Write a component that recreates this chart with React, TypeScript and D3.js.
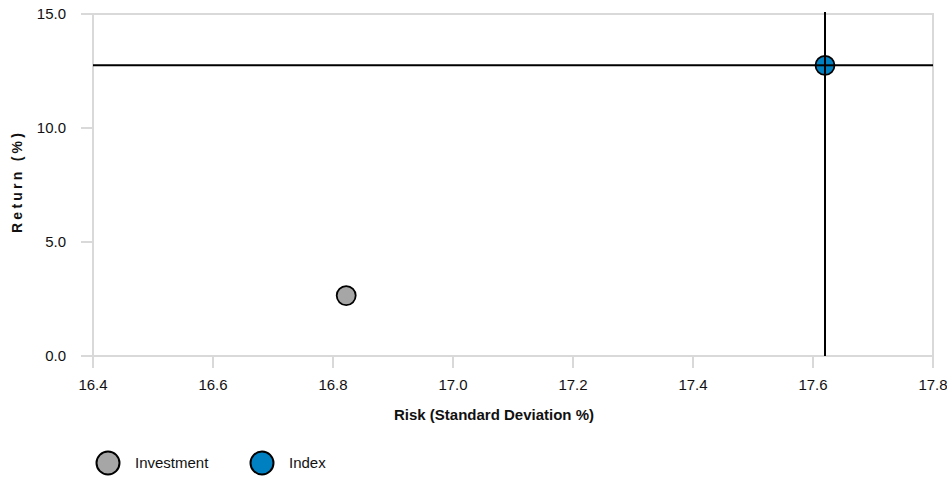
import React from "react";
import * as d3 from "d3";

const seriesNames = ["Investment", "Index"];
const riskValues = [16.822, 17.62];
const returnValues = [2.65, 12.75];
const seriesColors = ["#a6a6a6", "#0080c0"];
const xTicks = [16.4, 16.6, 16.8, 17.0, 17.2, 17.4, 17.6, 17.8];
const yTicks = [0, 5, 10, 15];

const W = 947;
const H = 480;
const left = 93;
const right = 933;
const top = 14;
const bottom = 356;

export default function App() {
  const x = d3.scaleLinear().domain([16.4, 17.8]).range([left, right]);
  const y = d3.scaleLinear().domain([0, 15]).range([bottom, top]);
  const font = "'Liberation Sans', Arial, sans-serif";
  const idx = 1;
  return (
    <svg width={W} height={H} style={{ position: "absolute", left: 0, top: 0 }} fontFamily={font}>
      <rect x={0} y={0} width={W} height={H} fill="#fff" />
      <rect x={left} y={top} width={right - left} height={bottom - top} fill="none" stroke="#d9d9d9" strokeWidth={2} />
      {yTicks.map((t) => (
        <g key={"y" + t}>
          <line x1={left - 12} x2={left} y1={y(t)} y2={y(t)} stroke="#d9d9d9" strokeWidth={2} />
          <text x={66} y={y(t)} dy="0.35em" textAnchor="end" fontSize={15} fill="#111">
            {d3.format(".1f")(t)}
          </text>
        </g>
      ))}
      {xTicks.map((t) => (
        <g key={"x" + t}>
          <line x1={x(t)} x2={x(t)} y1={bottom} y2={bottom + 12} stroke="#d9d9d9" strokeWidth={2} />
          <text x={x(t)} y={390} textAnchor="middle" fontSize={15} fill="#111">
            {d3.format(".1f")(t)}
          </text>
        </g>
      ))}
      <text x={494} y={420} textAnchor="middle" fontSize={15} fontWeight="bold" fill="#111">
        Risk (Standard Deviation %)
      </text>
      <text
        transform={`translate(22,233) rotate(-90)`}
        fontSize={14}
        fontWeight="bold"
        textLength={100}
        lengthAdjust="spacing"
        fill="#111"
      >
        Return (%)
      </text>
      <line x1={left} x2={right} y1={y(returnValues[idx])} y2={y(returnValues[idx])} stroke="#000" strokeWidth={2} />
      <line x1={x(riskValues[idx])} x2={x(riskValues[idx])} y1={top - 2} y2={bottom} stroke="#000" strokeWidth={2} />
      {seriesNames.map((n, i) => (
        <circle key={n} cx={x(riskValues[i])} cy={y(returnValues[i])} r={9.5} fill={seriesColors[i]} stroke="#000" strokeWidth={1.8} />
      ))}
      <line x1={x(riskValues[idx])} x2={x(riskValues[idx])} y1={y(returnValues[idx]) - 10} y2={y(returnValues[idx]) + 10} stroke="#000" strokeWidth={2} />
      <line x1={x(riskValues[idx]) - 10} x2={x(riskValues[idx]) + 10} y1={y(returnValues[idx])} y2={y(returnValues[idx])} stroke="#000" strokeWidth={2} />
      {seriesNames.map((n, i) => (
        <g key={"l" + n} transform={`translate(${108 + i * 154},463)`}>
          <circle r={11.5} fill={seriesColors[i]} stroke="#000" strokeWidth={2} />
          <text x={27} y={0} dy="0.35em" fontSize={15} fill="#111">
            {n}
          </text>
        </g>
      ))}
    </svg>
  );
}
